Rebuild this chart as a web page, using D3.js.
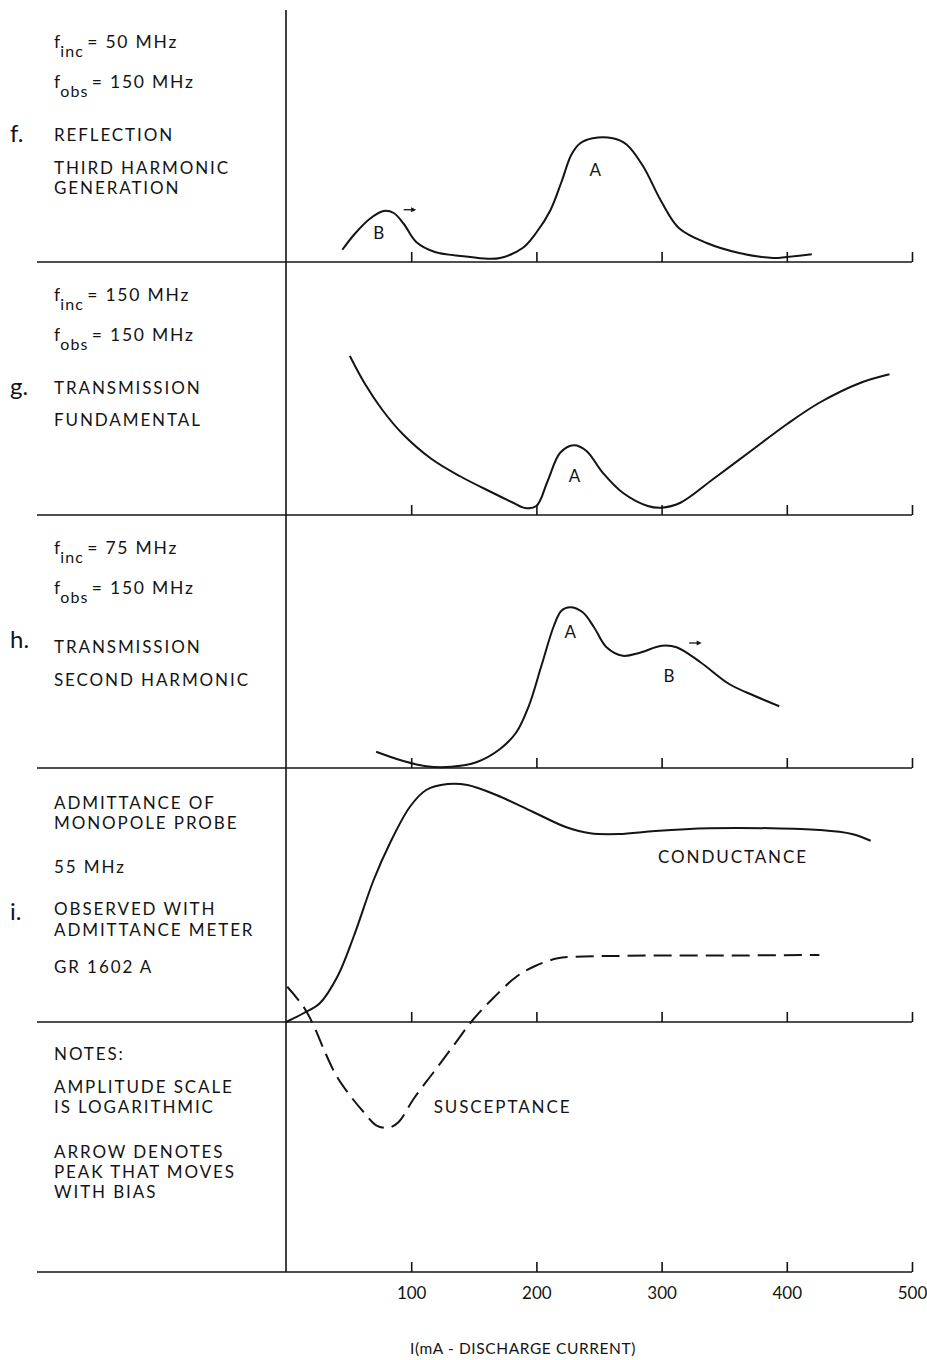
<!DOCTYPE html>
<html>
<head>
<meta charset="utf-8">
<script src="https://cdn.jsdelivr.net/npm/d3@7"></script>
<style>
  body { margin: 0; background: #fff; }
  svg text { font-family: Lato, "DejaVu Sans", sans-serif; fill: #141414; }
</style>
</head>
<body>
<svg id="chart" width="927" height="1360"></svg>
<script>
// Discharge current axis ticks (mA)
const currentTicks = [100, 200, 300, 400, 500];

// f. Reflection, third harmonic generation — [current mA, relative log amplitude]
const reflectionThird = [[45,4.9],[55,11.3],[67,17.3],[78,20.4],[86,19.6],[94,15.3],[104,8],[119,4],[142,2.3],[161,1.3],[171,1.6],[189,5.6],[200,11.8],[211,20.5],[220,32],[228,43],[235,47.5],[245,49.5],[261,49.5],[272,47],[285,38.5],[300,24],[314,13.5],[336,7.6],[362,3.6],[389,1.6],[400,2],[420,3.1]];

// g. Transmission, fundamental
const transmissionFund = [[51,63.6],[63,52.5],[77,42],[93,32.5],[116,22.5],[139,15.5],[165,8.9],[181,5],[191,2.8],[200,3.6],[209,13.6],[219,24.9],[230,27.9],[240,25.6],[253,16.9],[269,8.9],[289,3.6],[300,2.9],[315,4.9],[341,14.3],[371,25.5],[400,36.3],[426,44.9],[459,52.9],[482,56.3]];

// h. Transmission, second harmonic
const transmissionSecond = [[72,6.5],[93,2.9],[112,0.7],[132,0.5],[152,2.3],[171,7.6],[184,14.3],[194,24.9],[204,40.9],[214,56.9],[220,62.9],[227,64.3],[237,62.3],[246,56.3],[256,48.3],[269,44.9],[282,46],[300,48.9],[312,48.3],[331,42.3],[354,33.6],[374,28.9],[394,24.7]];

// i. Admittance of monopole probe at 55 MHz
const conductance = [[0,0],[14,3.5],[27,7.5],[41,18.1],[54,34.1],[70,56.8],[83,71.5],[99,86.1],[112,92.8],[129,95.2],[145,94.8],[168,90.8],[197,84.1],[224,77.9],[243,75.5],[266,75.2],[295,76.4],[338,77.5],[387,77.5],[426,76.8],[452,75.2],[467,72.5]];
const susceptance = [[1,14.1],[14,6.1],[22,-1.3],[30,-10.7],[40,-21.3],[51,-29.3],[62,-36],[72,-41.3],[82,-42.3],[90,-40],[102,-30.7],[118,-20],[134,-9.3],[149,0.7],[165,9.3],[184,18.1],[199,22.4],[217,25.5],[230,26.1],[260,26.4],[300,26.6],[350,26.6],[426,26.8]];

// Peak labels: [panel index, current, amplitude, text]
const peakLabels = [[0,74,11.6,"B"],[0,247,36.7,"A"],[1,230.5,15.6,"A"],[2,227,54.4,"A"],[2,306,36.8,"B"]];
// Arrows marking peaks that move with bias: [panel index, from mA, to mA, amplitude]
const biasArrows = [[0,94,104,20.9],[2,322,332,50]];
// Curve captions in panel i: [current, amplitude, text]
const curveCaptions = [[357,66,"CONDUCTANCE"],[173,-34,"SUSCEPTANCE"]];

// Left-hand descriptions for each panel
const panelLetters = ["f.", "g.", "h.", "i."];
const incFreqs = ["50 MHz", "150 MHz", "75 MHz"];
const obsFreqs = ["150 MHz", "150 MHz", "150 MHz"];
const panelTitles = [["REFLECTION", "THIRD HARMONIC", "GENERATION"], ["TRANSMISSION", "FUNDAMENTAL"], ["TRANSMISSION", "SECOND HARMONIC"]];
const admittanceNotes = ["ADMITTANCE OF", "MONOPOLE PROBE", "55 MHz", "OBSERVED WITH", "ADMITTANCE METER", "GR 1602 A"];
const generalNotes = ["NOTES:", "AMPLITUDE SCALE", "IS LOGARITHMIC", "ARROW DENOTES", "PEAK THAT MOVES", "WITH BIAS"];
const axisTitle = "I(mA - DISCHARGE CURRENT)";

// ---- layout ----
const svg = d3.select("#chart");
const ink = "#141414";
const baselines = [262, 515, 768, 1022, 1272];
const left = 37, axisX = 286, right = 912;
const panelH = 250;

const x = d3.scaleLinear().domain([0, 500]).range([axisX, right]);
const yScales = baselines.slice(0, 4).map(b => d3.scaleLinear().domain([0, 100]).range([b, b - panelH]));

// Baselines with upward ticks
baselines.forEach((b, i) => {
  svg.append("line").attr("x1", left).attr("x2", right).attr("y1", b).attr("y2", b)
    .attr("stroke", ink).attr("stroke-width", 1.6);
  const ax = d3.axisBottom(x).tickValues(currentTicks).tickSizeInner(-10).tickSizeOuter(0)
    .tickPadding(15).tickFormat(i === 4 ? d3.format("d") : "");
  const g = svg.append("g").attr("transform", `translate(0,${b})`).call(ax);
  g.select(".domain").remove();
  g.selectAll(".tick line").attr("stroke", ink).attr("stroke-width", 1.6);
  g.selectAll(".tick text").attr("font-size", 17).attr("fill", ink)
    .style("font-family", "Lato, sans-serif");
});

// Vertical zero-current line
svg.append("line").attr("x1", axisX).attr("x2", axisX).attr("y1", 10).attr("y2", 1272)
  .attr("stroke", ink).attr("stroke-width", 1.6);

// Curves
const lineFor = ys => d3.line().x(d => x(d[0])).y(d => ys(d[1])).curve(d3.curveCatmullRom.alpha(0.5));
[[reflectionThird, 0], [transmissionFund, 1], [transmissionSecond, 2], [conductance, 3]].forEach(([data, p]) => {
  svg.append("path").datum(data).attr("d", lineFor(yScales[p]))
    .attr("fill", "none").attr("stroke", ink).attr("stroke-width", 2);
});
svg.append("path").datum(susceptance).attr("d", lineFor(yScales[3]))
  .attr("fill", "none").attr("stroke", ink).attr("stroke-width", 2)
  .attr("stroke-dasharray", "18,8");

// Peak labels
peakLabels.forEach(([p, cx, cy, t]) => {
  svg.append("text").attr("x", x(cx)).attr("y", yScales[p](cy)).attr("dy", "0.36em")
    .attr("text-anchor", "middle").attr("font-size", 17).text(t);
});

// Bias arrows
biasArrows.forEach(([p, a, b, v]) => {
  const y0 = yScales[p](v), x0 = x(a), x1 = x(b);
  svg.append("line").attr("x1", x0).attr("x2", x1 - 2).attr("y1", y0).attr("y2", y0)
    .attr("stroke", ink).attr("stroke-width", 1.3);
  svg.append("path").attr("d", `M${x1},${y0}L${x1 - 5},${y0 - 2.5}L${x1 - 5},${y0 + 2.5}Z`).attr("fill", ink);
});

// Curve captions
curveCaptions.forEach(([cx, cy, t]) => {
  svg.append("text").attr("x", x(cx)).attr("y", yScales[3](cy)).attr("dy", "0.36em")
    .attr("text-anchor", "middle").attr("font-size", 17).attr("letter-spacing", 1.9).text(t);
});

// Left-hand text
const textX = 54, fs = 17, ls = 1.9;
function label(xp, yp, t, size = fs, spacing = ls) {
  return svg.append("text").attr("x", xp).attr("y", yp).attr("font-size", size)
    .attr("letter-spacing", spacing).text(t);
}
function freqLine(yp, sub, value) {
  const t = svg.append("text").attr("x", textX).attr("y", yp).attr("font-size", 17.5);
  t.append("tspan").text("f");
  t.append("tspan").attr("dy", 9).attr("font-size", 16).attr("letter-spacing", 1.2).text(sub);
  t.append("tspan").attr("dy", -9).attr("dx", 3).attr("letter-spacing", 1.8).text("= " + value);
}
const titleOffsets = [[-121, -88, -68], [-121, -89], [-115, -82]];
for (let p = 0; p < 3; p++) {
  const b = baselines[p];
  freqLine(b - 214, "inc", incFreqs[p]);
  freqLine(b - 174, "obs", obsFreqs[p]);
  label(10, b - 120, panelLetters[p], 24, 0);
  panelTitles[p].forEach((t, k) => label(textX, b + titleOffsets[p][k], t));
}
const admittanceY = [809, 829, 873, 915, 936, 973];
admittanceNotes.forEach((t, k) => label(textX, admittanceY[k], t));
label(10, 920, panelLetters[3], 24, 0);
const notesY = [1060, 1093, 1113, 1158, 1178, 1198];
generalNotes.forEach((t, k) => label(textX, notesY[k], t));

svg.append("text").attr("x", 523).attr("y", 1354).attr("text-anchor", "middle")
  .attr("font-size", 15.5).attr("letter-spacing", 0.6).text(axisTitle);
</script>
</body>
</html>
